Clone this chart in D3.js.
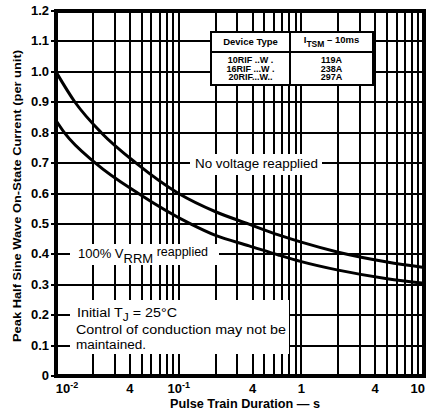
<!DOCTYPE html>
<html>
<head>
<meta charset="utf-8">
<script src="https://cdn.jsdelivr.net/npm/d3@7"></script>
<style>
  html, body { margin: 0; padding: 0; background: #fff; }
  svg { display: block; }
  text { font-family: "Liberation Sans", Arial, Helvetica, sans-serif; fill: #000; }
</style>
</head>
<body>
<svg id="chart" width="426" height="411"></svg>
<script>
// Pulse train duration (s) vs. peak half sine wave on-state current (per unit)
const noVoltageT = [0.01, 0.0143, 0.0234, 0.045, 0.1, 0.2, 0.37, 0.66, 1, 2, 5, 10];
const noVoltageI = [1.0, 0.9, 0.8, 0.7, 0.6, 0.54, 0.5, 0.463, 0.44, 0.407, 0.375, 0.357];
const vrrmT = [0.01, 0.0117, 0.021, 0.047, 0.125, 0.2, 0.375, 0.66, 1, 2, 5, 10];
const vrrmI = [0.84, 0.8, 0.7, 0.6, 0.5, 0.462, 0.428, 0.397, 0.376, 0.348, 0.32, 0.305];

// Axis ticks
const xTickValues = [0.01, 0.04, 0.1, 0.4, 1, 4, 10];
const xTickBase = ["10", "4", "10", "4", "1", "4", "10"];
const xTickExp = ["-2", "", "-1", "", "", "", ""];
const yTickValues = [0, 0.1, 0.2, 0.3, 0.4, 0.5, 0.6, 0.7, 0.8, 0.9, 1.0, 1.1, 1.2];
const yTickLabels = ["0", "0.1", "0.2", "0.3", "0.4", "0.5", "0.6", "0.7", "0.8", "0.9", "1.0", "1.1", "1.2"];

// Rating table
const deviceTypes = ["10RIF ..W .", "16RIF ...W .", "20RIF...W.."];
const itsmValues = ["119A", "238A", "297A"];

const svg = d3.select("#chart");
const plot = { left: 56, right: 424, top: 11, bottom: 376 };

const x = d3.scaleLog().domain([0.01, 10]).range([plot.left, plot.right]);
const y = d3.scaleLinear().domain([0, 1.2]).range([plot.bottom, plot.top]);
const px = v => Math.round(x(v));
const py = v => Math.round(y(v));

svg.append("rect").attr("width", 426).attr("height", 411).attr("fill", "#fff");

// Log grid: 1..9 in every decade
const gridX = [];
[0.01, 0.1, 1].forEach(d => { for (let k = 1; k <= 9; k++) gridX.push(k * d); });
gridX.push(10);

const grid = svg.append("g")
  .attr("stroke", "#000").attr("stroke-width", 2)
  .attr("shape-rendering", "crispEdges");
grid.selectAll("line.v").data(gridX).join("line")
  .attr("class", "v")
  .attr("x1", d => px(d)).attr("x2", d => px(d))
  .attr("y1", plot.top).attr("y2", plot.bottom);

// Y axis: tick stubs + labels, gridlines across the plot
const yAxis = d3.axisLeft(y)
  .tickValues(yTickValues)
  .tickFormat((d, i) => yTickLabels[i])
  .tickSize(plot.right - plot.left + 5)
  .tickPadding(2);
const gy = svg.append("g")
  .attr("transform", `translate(${plot.right},0)`)
  .call(yAxis);
gy.select(".domain").remove();
gy.selectAll(".tick").attr("transform", d => `translate(0,${py(d)})`);
gy.selectAll(".tick line")
  .attr("stroke", "#000").attr("stroke-width", 2)
  .attr("shape-rendering", "crispEdges");
gy.selectAll(".tick text")
  .attr("font-size", 13).attr("font-weight", "bold")
  .attr("fill", "#000");

// White panels behind annotations
const panels = [
  { x: 190, y: py(0.7) - 9, w: 132, h: 21 },
  { x: 70, y: py(0.4) - 10, w: 149, h: 21 },
  { x: 70, y: 300, w: 219, h: 54 },
  { x: 211, y: 32, w: 162, h: 53 }
];
svg.append("g").selectAll("rect").data(panels).join("rect")
  .attr("x", d => d.x).attr("y", d => d.y)
  .attr("width", d => d.w).attr("height", d => d.h)
  .attr("fill", "#fff");

// Frame
svg.append("rect")
  .attr("x", plot.left).attr("y", plot.top)
  .attr("width", plot.right - plot.left).attr("height", plot.bottom - plot.top)
  .attr("fill", "none").attr("stroke", "#000").attr("stroke-width", 3.5)
  .attr("shape-rendering", "crispEdges");

// Curves
const line = d3.line()
  .x(d => x(d[0])).y(d => y(d[1]))
  .curve(d3.curveMonotoneX);
const curves = [
  d3.zip(noVoltageT, noVoltageI),
  d3.zip(vrrmT, vrrmI)
];
svg.append("g").selectAll("path").data(curves).join("path")
  .attr("d", line)
  .attr("fill", "none").attr("stroke", "#000").attr("stroke-width", 3)
  .attr("stroke-linejoin", "round");

// X tick labels
const xl = svg.append("g").attr("font-size", 13).attr("font-weight", "bold");
xTickValues.forEach((v, i) => {
  const last = i === xTickValues.length - 1;
  const t = xl.append("text")
    .attr("x", last ? 425 : x(v) + (i === 0 ? 11 : 0))
    .attr("y", 393)
    .attr("text-anchor", last ? "end" : "middle");
  t.append("tspan").text(xTickBase[i]);
  if (xTickExp[i]) {
    t.append("tspan").attr("font-size", 9).attr("dy", -5).text(xTickExp[i]);
  }
});

// Axis titles
svg.append("text")
  .attr("x", 245).attr("y", 408)
  .attr("text-anchor", "middle")
  .attr("font-size", 12).attr("font-weight", "bold")
  .attr("textLength", 150).attr("lengthAdjust", "spacingAndGlyphs")
  .text("Pulse Train Duration \u2014 s");

svg.append("text")
  .attr("transform", "translate(21,196) rotate(-90)")
  .attr("text-anchor", "middle")
  .attr("font-size", 11.5).attr("font-weight", "bold")
  .attr("textLength", 292).attr("lengthAdjust", "spacingAndGlyphs")
  .text("Peak Half Sine Wave On-State Current (per unit)");

// Curve labels
svg.append("text")
  .attr("x", 195).attr("y", py(0.7) + 4.5)
  .attr("font-size", 12.5)
  .attr("textLength", 123).attr("lengthAdjust", "spacingAndGlyphs")
  .text("No voltage reapplied");

const vr = svg.append("text")
  .attr("x", 78).attr("y", py(0.4) + 3.5)
  .attr("font-size", 13);
vr.append("tspan").text("100% V");
vr.append("tspan").attr("dy", 5.5).text("RRM");
vr.append("tspan").attr("dy", -7.5).attr("font-size", 12.5).text(" reapplied");

// Conditions note
const note = svg.append("g").attr("font-size", 12);
const n1 = note.append("text").attr("x", 77).attr("y", py(0.2) + 2)
  .attr("textLength", 100).attr("lengthAdjust", "spacingAndGlyphs");
n1.append("tspan").text("Initial T");
n1.append("tspan").attr("dy", 3.5).attr("font-size", 10).text("J");
n1.append("tspan").attr("dy", -3.5).text(" = 25\u00B0C");
note.append("text").attr("x", 76).attr("y", py(0.2) + 19)
  .attr("textLength", 210).attr("lengthAdjust", "spacingAndGlyphs")
  .text("Control of conduction may not be");
note.append("text").attr("x", 76).attr("y", py(0.1) + 3)
  .attr("textLength", 70).attr("lengthAdjust", "spacingAndGlyphs")
  .text("maintained.");

// Rating table
const tb = svg.append("g");
const tbl = { x0: 211, x1: 290, x2: 373, y0: 32, y1: 52, y2: 85 };
tb.append("rect")
  .attr("x", tbl.x0).attr("y", tbl.y0)
  .attr("width", tbl.x2 - tbl.x0).attr("height", tbl.y2 - tbl.y0)
  .attr("fill", "#fff").attr("stroke", "#000").attr("stroke-width", 1.5)
  .attr("shape-rendering", "crispEdges");
tb.append("line").attr("x1", tbl.x0).attr("x2", tbl.x2)
  .attr("y1", tbl.y1).attr("y2", tbl.y1).attr("stroke", "#000").attr("stroke-width", 1.5)
  .attr("shape-rendering", "crispEdges");
tb.append("line").attr("x1", tbl.x1).attr("x2", tbl.x1)
  .attr("y1", tbl.y0).attr("y2", tbl.y2).attr("stroke", "#000").attr("stroke-width", 1.5)
  .attr("shape-rendering", "crispEdges");

tb.append("text").attr("x", (tbl.x0 + tbl.x1) / 2).attr("y", 45)
  .attr("text-anchor", "middle").attr("font-size", 9.5).attr("font-weight", "bold")
  .text("Device Type");
const hd = tb.append("text").attr("x", (tbl.x1 + tbl.x2) / 2).attr("y", 43)
  .attr("text-anchor", "middle").attr("font-size", 9.5).attr("font-weight", "bold");
hd.append("tspan").text("I");
hd.append("tspan").attr("dy", 3.5).attr("font-size", 8.5).text("TSM");
hd.append("tspan").attr("dy", -3.5).text(" \u2013 10ms");

const rowY = [63, 71.5, 80];
tb.selectAll("text.dev").data(deviceTypes).join("text")
  .attr("class", "dev")
  .attr("x", (tbl.x0 + tbl.x1) / 2).attr("y", (d, i) => rowY[i])
  .attr("text-anchor", "middle").attr("font-size", 9).attr("font-weight", "bold")
  .text(d => d);
tb.selectAll("text.itsm").data(itsmValues).join("text")
  .attr("class", "itsm")
  .attr("x", (tbl.x1 + tbl.x2) / 2).attr("y", (d, i) => rowY[i])
  .attr("text-anchor", "middle").attr("font-size", 9).attr("font-weight", "bold")
  .text(d => d);
</script>
</body>
</html>
